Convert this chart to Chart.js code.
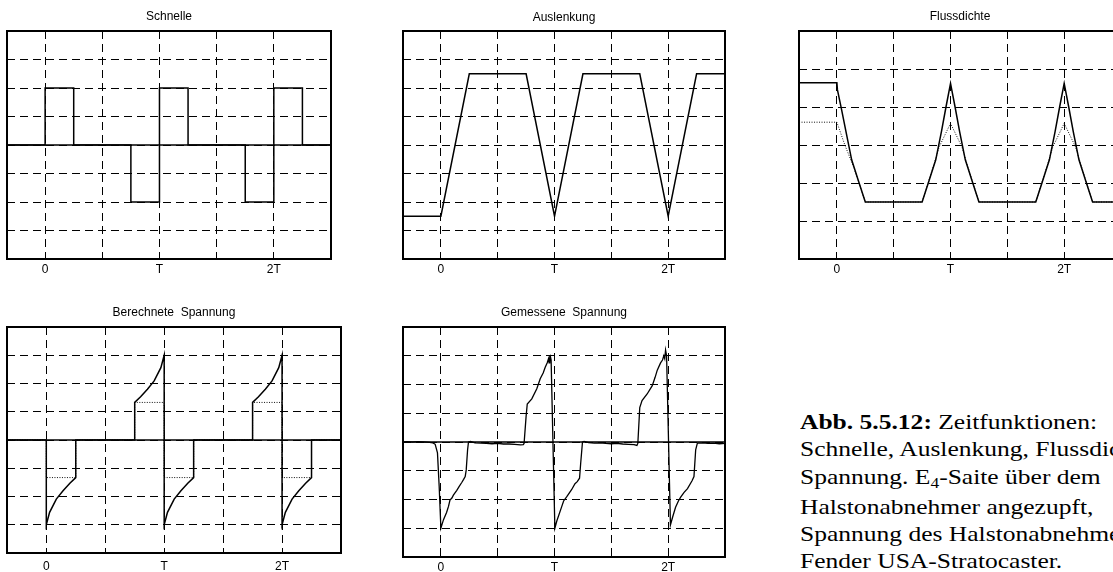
<!DOCTYPE html>
<html>
<head>
<meta charset="utf-8">
<script src="https://cdn.jsdelivr.net/npm/chart.js@4"></script>
<style>
html, body { margin: 0; padding: 0; background: #fff; overflow: hidden; width: 1113px; height: 572px; }
canvas { position: absolute; }
#caption {
    position: absolute; left: 800px; top: 408px;
    font-family: "Liberation Serif", "Times New Roman", serif;
    font-size: 22px; line-height: 27.3px; white-space: nowrap; color: #000;
    transform: scaleX(1.16); transform-origin: 0 0;
}
#caption sub { font-size: 0.68em; vertical-align: baseline; position: relative; top: 0.3em; }
</style>
</head>
<body>
<canvas id="schnelle"></canvas>
<canvas id="auslenkung"></canvas>
<canvas id="fluss"></canvas>
<canvas id="berechnet"></canvas>
<canvas id="gemessen"></canvas>
<div id="caption"><b>Abb. 5.5.12:</b> Zeitfunktionen:<br>Schnelle, Auslenkung, Flussdichte,<br>Spannung. E<sub>4</sub>-Saite über dem<br>Halstonabnehmer angezupft,<br>Spannung des Halstonabnehmers<br>Fender USA-Stratocaster.</div>
<script>
// time axis in units of the period T
const xGrid = [0, 0.5, 1, 1.5, 2];
const tickPos = [0, 1, 2];
const tickLabels = ['0', 'T', '2T'];

// Schnelle
const schnelleT = [-0.333, 0, 0, 0.25, 0.25, 0.75, 0.75, 1, 1, 1.25, 1.25, 1.75, 1.75, 2, 2, 2.25, 2.25, 2.5];
const schnelleV = [0, 0, 2, 2, 0, 0, -2, -2, 2, 2, 0, 0, -2, -2, 2, 2, 0, 0];

// Auslenkung
const auslenkungT = [-0.333, 0, 0.25, 0.75, 1, 1.25, 1.75, 2, 2.25, 2.5];
const auslenkungV = [-2.5, -2.5, 2.5, 2.5, -2.5, 2.5, 2.5, -2.5, 2.5, 2.5];

// Flussdichte (solid + dotted)
const flussT = [-0.333, 0, 0.005, 0.04, 0.08, 0.13, 0.19, 0.25,
    0.75, 0.81, 0.87, 0.92, 0.96, 1, 1.04, 1.08, 1.13, 1.19, 1.25,
    1.75, 1.81, 1.87, 1.92, 1.96, 2, 2.04, 2.08, 2.13, 2.19, 2.25, 2.5];
const flussV = [1.64, 1.64, 1.45, 0.95, 0.35, -0.39, -0.95, -1.5,
    -1.5, -0.95, -0.39, 0.35, 1.0, 1.62, 1.0, 0.35, -0.39, -0.95, -1.5,
    -1.5, -0.95, -0.39, 0.35, 1.0, 1.62, 1.0, 0.35, -0.39, -0.95, -1.5, -1.5];
const flussDotT = [-0.333, 0, 0.07, 0.15, 0.25, 0.75, 0.85, 0.9, 1, 1.1, 1.15, 1.25,
    1.75, 1.85, 1.9, 2, 2.1, 2.15, 2.25, 2.5];
const flussDotV = [0.6, 0.6, 0.0, -0.6, -1.5, -1.5, -0.55, -0.05, 0.57, -0.05, -0.55, -1.5,
    -1.5, -0.55, -0.05, 0.57, -0.05, -0.55, -1.5, -1.5];

// Berechnete Spannung (solid + dotted)
const berechnetT = [-0.333, 0, 0, 0.028, 0.085, 0.142, 0.2, 0.25, 0.25,
    0.75, 0.75, 0.8, 0.858, 0.915, 0.972, 1, 1, 1.028, 1.085, 1.142, 1.2, 1.25, 1.25,
    1.75, 1.75, 1.8, 1.858, 1.915, 1.972, 2, 2, 2.028, 2.085, 2.142, 2.2, 2.25, 2.25, 2.5];
const berechnetV = [0, 0, -3, -2.56, -2.09, -1.8, -1.53, -1.33, 0,
    0, 1.33, 1.53, 1.8, 2.09, 2.56, 3, -3, -2.56, -2.09, -1.8, -1.53, -1.33, 0,
    0, 1.33, 1.53, 1.8, 2.09, 2.56, 3, -3, -2.56, -2.09, -1.8, -1.53, -1.33, 0, 0];
const berechnetDotT = [-0.333, 0, 0, 0.25, 0.25, 0.75, 0.75, 1, 1, 1.25, 1.25, 1.75, 1.75, 2, 2, 2.25, 2.25, 2.5];
const berechnetDotV = [0, 0, -1.33, -1.33, 0, 0, 1.33, 1.33, -1.33, -1.33, 0, 0, 1.33, 1.33, -1.33, -1.33, 0, 0];

// Gemessene Spannung
const gemessenT = [-0.333, -0.3, -0.25, -0.2, -0.15, -0.1, -0.07, -0.05, -0.03, -0.015, 0,
    0.023, 0.05, 0.067, 0.08, 0.097, 0.11, 0.14, 0.16, 0.185, 0.2, 0.214, 0.223, 0.235, 0.243,
    0.26, 0.3, 0.35, 0.4, 0.45, 0.5, 0.55, 0.6, 0.65, 0.7, 0.725, 0.732,
    0.75, 0.76, 0.8, 0.844, 0.874, 0.9, 0.918, 0.935, 0.947, 0.952, 0.956, 0.96, 0.965, 0.97, 1.003,
    1.02, 1.064, 1.08, 1.108, 1.15, 1.18, 1.2, 1.22, 1.23, 1.246,
    1.26, 1.3, 1.35, 1.4, 1.45, 1.5, 1.55, 1.6, 1.65, 1.7, 1.725, 1.733,
    1.75, 1.77, 1.815, 1.86, 1.885, 1.904, 1.933, 1.95, 1.962, 1.97, 1.977, 1.986, 2.02,
    2.04, 2.065, 2.09, 2.11, 2.14, 2.17, 2.21, 2.227, 2.242, 2.257,
    2.3, 2.35, 2.4, 2.45, 2.5];
const gemessenV = [0, 0.01, 0, 0.01, 0, -0.01, -0.03, -0.08, -0.38, -1.55, -3.0,
    -2.7, -2.45, -2.24, -2.02, -1.95, -1.85, -1.68, -1.55, -1.4, -1.3, -1.2, -0.97, -0.27, 0.0,
    0.02, -0.03, -0.04, -0.05, -0.06, -0.05, -0.07, -0.07, -0.08, -0.1, -0.09, -0.05,
    0.9, 1.32, 1.5, 1.85, 2.2, 2.4, 2.6, 2.75, 2.9, 2.75, 3.0, 2.8, 2.95, 2.85, -3.0,
    -2.75, -2.24, -2.05, -1.9, -1.66, -1.45, -1.38, -1.26, -0.75, 0.0,
    0.02, -0.02, -0.04, -0.03, -0.05, -0.06, -0.05, -0.07, -0.08, -0.09, -0.12, -0.05,
    1.2, 1.44, 1.67, 1.96, 2.25, 2.5, 2.75, 2.85, 3.0, 2.9, 3.2, 3.0, -2.88,
    -2.6, -2.27, -2.05, -1.92, -1.75, -1.62, -1.35, -1.2, -0.27, -0.04,
    -0.03, -0.05, -0.04, -0.06, -0.05];

const zeroT = [-0.333, 2.5];
const zeroV = [0, 0];

const sansFont = '"Liberation Sans", Arial, sans-serif';

function points(ts, vs) {
    return ts.map((t, i) => ({ x: t, y: vs[i] }));
}

function solid(ts, vs, w) {
    return { data: points(ts, vs), borderColor: '#000', borderWidth: w || 1.5, pointRadius: 0, tension: 0 };
}

function dotted(ts, vs) {
    return { data: points(ts, vs), borderColor: '#111', borderWidth: 1, borderDash: [1, 1.5], pointRadius: 0, tension: 0 };
}

const framePlugin = {
    id: 'frame',
    afterDatasetsDraw(chart) {
        const a = chart.chartArea;
        const ctx = chart.ctx;
        ctx.save();
        ctx.lineWidth = 2;
        ctx.strokeStyle = '#000';
        ctx.strokeRect(a.left, a.top, a.right - a.left, a.bottom - a.top);
        ctx.restore();
    }
};

function makePanel(id, box, area, yMax, title, titleY, labelPad, datasets) {
    const canvas = document.getElementById(id);
    canvas.width = box.w;
    canvas.height = box.h;
    canvas.style.left = box.left + 'px';
    canvas.style.top = box.top + 'px';

    const yGrid = [];
    for (let v = -yMax + 1; v < yMax; v++) yGrid.push(v);

    return new Chart(canvas.getContext('2d'), {
        type: 'line',
        data: { datasets: datasets },
        plugins: [framePlugin],
        options: {
            responsive: false,
            animation: false,
            devicePixelRatio: 1,
            layout: { padding: { left: area.l - box.left, right: box.left + box.w - area.r, top: 0, bottom: 0 } },
            plugins: {
                legend: { display: false },
                tooltip: { enabled: false },
                title: {
                    display: true,
                    text: title,
                    fullSize: false,
                    color: '#000',
                    font: { family: sansFont, size: 12, weight: 'normal', lineHeight: 1 },
                    padding: { top: titleY - box.top - 6, bottom: area.t - titleY - 6 }
                }
            },
            scales: {
                x: {
                    type: 'linear',
                    min: -1 / 3,
                    max: 2.5,
                    afterBuildTicks: s => { s.ticks = xGrid.map(v => ({ value: v })); },
                    afterFit: s => { s.height = box.top + box.h - area.b; },
                    ticks: {
                        autoSkip: false,
                        maxRotation: 0,
                        padding: labelPad,
                        color: '#000',
                        font: { family: sansFont, size: 12 },
                        callback: v => {
                            const i = tickPos.indexOf(v);
                            return i >= 0 ? tickLabels[i] : '';
                        }
                    },
                    grid: { color: '#000', lineWidth: 1, drawTicks: false },
                    border: { display: false, dash: [8, 5] }
                },
                y: {
                    min: -yMax,
                    max: yMax,
                    afterBuildTicks: s => { s.ticks = yGrid.map(v => ({ value: v })); },
                    afterFit: s => { s.width = 0; },
                    ticks: { display: false },
                    grid: { color: '#000', lineWidth: 1, drawTicks: false },
                    border: { display: false, dash: [8, 5] }
                }
            }
        }
    });
}

makePanel('schnelle', { left: 0, top: 0, w: 345, h: 290 }, { l: 7, r: 331, t: 31, b: 259 }, 4,
    'Schnelle', 17, 3,
    [solid(schnelleT, schnelleV), solid(zeroT, zeroV)]);

makePanel('auslenkung', { left: 370, top: 0, w: 365, h: 290 }, { l: 403, r: 725, t: 31, b: 259 }, 4,
    'Auslenkung', 18, 3,
    [solid(auslenkungT, auslenkungV)]);

makePanel('fluss', { left: 760, top: 0, w: 370, h: 290 }, { l: 799, r: 1121, t: 31, b: 259 }, 3,
    'Flussdichte', 17, 3,
    [solid(flussT, flussV), dotted(flussDotT, flussDotV)]);

makePanel('berechnet', { left: 0, top: 290, w: 350, h: 282 }, { l: 7, r: 341, t: 327, b: 553 }, 4,
    'Berechnete  Spannung', 313, 6,
    [solid(berechnetT, berechnetV), solid(zeroT, zeroV), dotted(berechnetDotT, berechnetDotV)]);

makePanel('gemessen', { left: 370, top: 290, w: 365, h: 282 }, { l: 403, r: 725, t: 327, b: 557 }, 4,
    'Gemessene  Spannung', 313, 3,
    [solid(gemessenT, gemessenV, 1.3), solid(zeroT, zeroV)]);
</script>
</body>
</html>
